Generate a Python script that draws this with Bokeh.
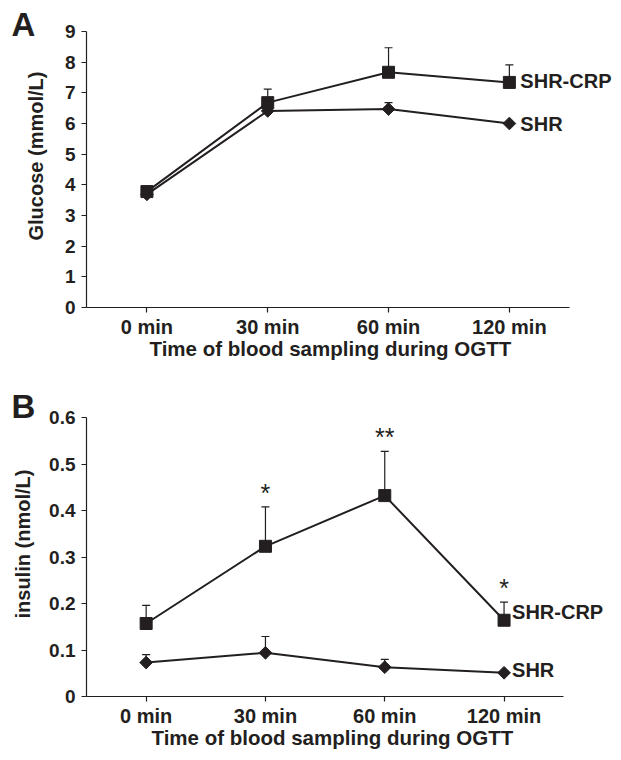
from bokeh.plotting import figure
from bokeh.layouts import column
from bokeh.models import (Range1d, FixedTicker, LabelSet, Title,
                          NumeralTickFormatter, ColumnDataSource)
from bokeh.embed import file_html
from bokeh.resources import INLINE
from bokeh.core.properties import value

# ---------------- data ----------------
times = ["0 min", "30 min", "60 min", "120 min"]

glucose_crp = [3.78, 6.68, 7.67, 7.34]
glucose_crp_upper = [3.78, 7.12, 8.47, 7.91]
glucose_shr = [3.69, 6.41, 6.47, 6.00]
glucose_shr_upper = [3.69, 6.41, 6.68, 6.00]
glucose_stars = ["", "", "", ""]
glucose_ticks = [0, 1, 2, 3, 4, 5, 6, 7, 8, 9]

insulin_crp = [0.157, 0.323, 0.432, 0.164]
insulin_crp_upper = [0.196, 0.408, 0.527, 0.203]
insulin_shr = [0.073, 0.094, 0.063, 0.051]
insulin_shr_upper = [0.090, 0.129, 0.080, 0.051]
insulin_stars = ["", "*", "**", "*"]
insulin_ticks = [0, 0.1, 0.2, 0.3, 0.4, 0.5, 0.6]

series_names = ["SHR-CRP", "SHR"]
x_title = "Time of blood sampling during OGTT"

FONT = "Liberation Sans"
INK = "#231f20"
FIG_W = 618


def make_panel(letter, letter_dx, letter_standoff, ylabel, ylab_offset, ylab_standoff,
               ticks, fmt, crp, crp_up, shr, shr_up, stars, height, b_left, b_top,
               b_bottom, axis_px, title_dx, label_dys, label_dx):
    frame_w = FIG_W - b_left
    n = len(times)
    xs = [i + 0.5 for i in range(n)]
    p = figure(x_range=Range1d(0, n * frame_w / axis_px),
               y_range=Range1d(ticks[0], ticks[-1]),
               width=FIG_W, height=height,
               min_border_left=b_left, min_border_right=0,
               min_border_top=b_top, min_border_bottom=b_bottom,
               output_backend="svg", toolbar_location=None,
               title=letter)
    p.xgrid.visible = False
    p.ygrid.visible = False
    p.outline_line_color = None
    p.background_fill_color = "white"
    p.border_fill_color = "white"

    # panel letter as the plot title
    p.title.text_font = FONT
    p.title.text_font_style = "bold"
    p.title.text_font_size = "33px"
    p.title.text_color = INK
    p.title.align = "left"
    p.title.offset = letter_dx
    p.title.standoff = letter_standoff
    p.title.vertical_align = "bottom"

    for ax in (p.xaxis[0], p.yaxis[0]):
        ax.axis_line_color = INK
        ax.axis_line_width = 1.2
        ax.major_tick_line_color = INK
        ax.major_tick_line_width = 1.2
        ax.major_tick_out = 5
        ax.major_tick_in = 0
        ax.minor_tick_line_color = None
        ax.major_label_text_font = FONT
        ax.major_label_text_font_style = "bold"
        ax.major_label_text_color = INK

    p.xaxis.bounds = (0, n)
    p.xaxis.ticker = FixedTicker(ticks=xs)
    p.xaxis.major_label_overrides = {x: t for x, t in zip(xs, times)}
    p.xaxis.major_label_text_font_size = "20px"
    p.xaxis.major_label_standoff = 3

    p.yaxis.major_label_text_font_size = "19px"
    p.yaxis.major_label_standoff = 6
    p.yaxis.ticker = FixedTicker(ticks=ticks)
    p.yaxis.formatter = NumeralTickFormatter(format=fmt)

    # x-axis title (below the tick labels)
    p.add_layout(Title(text=x_title, align="left", offset=title_dx, standoff=-12,
                       vertical_align="bottom", text_font=FONT,
                       text_font_style="bold", text_font_size="20.5px",
                       text_color=INK), "below")
    # y-axis title (left of the tick labels)
    p.add_layout(Title(text=ylabel, align="left", offset=ylab_offset,
                       standoff=ylab_standoff, vertical_align="top",
                       text_font=FONT, text_font_style="bold",
                       text_font_size="20px", text_color=INK), "left")

    src = ColumnDataSource(dict(x=xs, crp=crp, crp_up=crp_up, shr=shr,
                                shr_up=shr_up, stars=stars))

    # error bars (upper only)
    for v, up in (("crp", "crp_up"), ("shr", "shr_up")):
        p.segment(x0="x", y0=v, x1="x", y1=up, source=src,
                  line_color=INK, line_width=1.2)
        p.scatter(x="x", y=up, source=src, marker="dash", size=8,
                  line_color=INK, line_width=1.2)

    # lines
    p.line(x="x", y="crp", source=src, line_color=INK, line_width=2)
    p.line(x="x", y="shr", source=src, line_color=INK, line_width=2)

    # markers
    p.scatter(x="x", y="crp", source=src, marker="square", size=12,
              fill_color=INK, line_color=INK)
    p.scatter(x="x", y="shr", source=src, marker="square", size=9, angle=0.785398,
              fill_color=INK, line_color=INK)

    # significance stars
    p.text(x="x", y="crp_up", text="stars", source=src,
           text_font=value(FONT), text_font_size="25px", text_color=INK,
           text_align="center", text_baseline="bottom")

    # series labels at the last time point
    lab_src = ColumnDataSource(dict(x=[xs[-1], xs[-1]],
                                    y=[crp[-1], shr[-1]],
                                    text=series_names,
                                    dy=label_dys))
    p.add_layout(LabelSet(x="x", y="y", text="text", source=lab_src,
                          x_offset=label_dx, y_offset="dy",
                          text_font=value(FONT), text_font_style="bold",
                          text_font_size="20px", text_color=INK,
                          text_baseline="middle", text_align="left"))
    return p


pa = make_panel("A", -75, -23, "Glucose (mmol/L)", 67, 25, glucose_ticks, "0",
                glucose_crp, glucose_crp_upper, glucose_shr, glucose_shr_upper,
                glucose_stars, 365, 83, 31, 58, 486, 63, [1, 0], 11)
pb = make_panel("B", -75, -14, "insulin (nmol/L)", 78, 22, insulin_ticks, "0.[0]",
                insulin_crp, insulin_crp_upper, insulin_shr, insulin_shr_upper,
                insulin_stars, 391, 84, 52, 60, 479, 65, [8, 3], 8)

layout = column(pa, pb, spacing=0)
open("out.html", "w").write(file_html(layout, INLINE))
